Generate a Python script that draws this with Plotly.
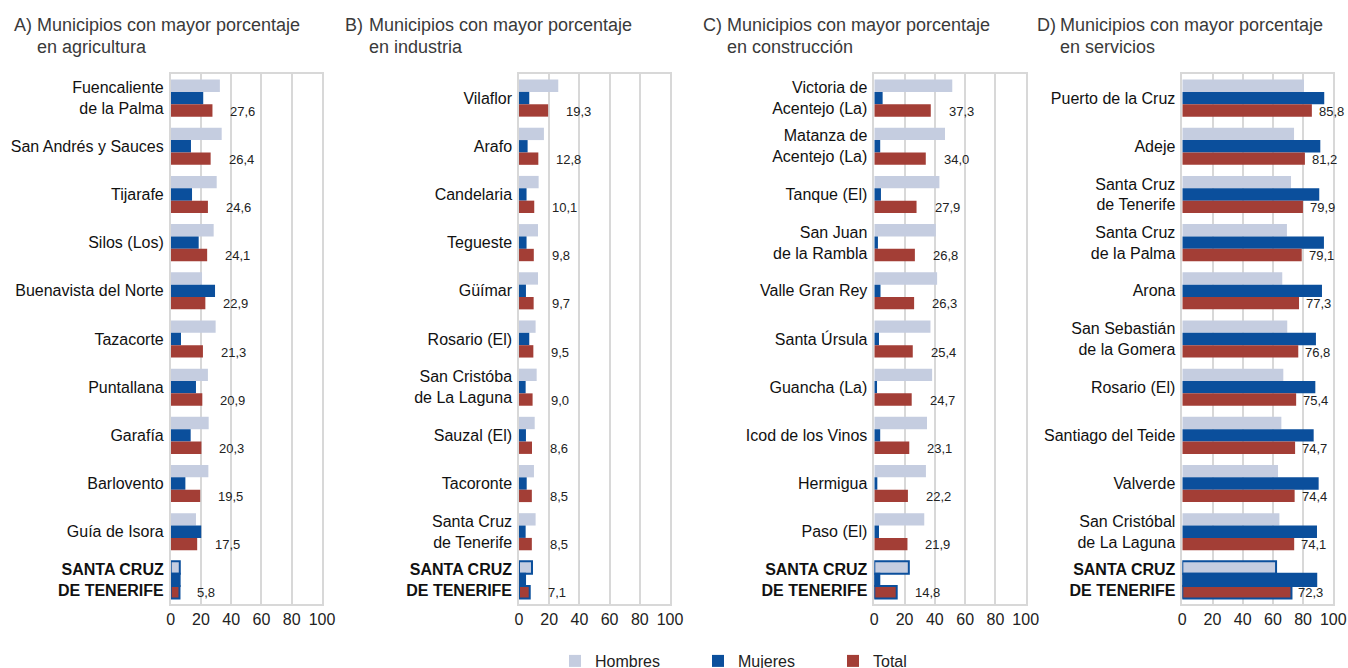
import plotly.graph_objects as go

W, H = 1348, 668

# ---------------- data ----------------
cat_a = ["Fuencaliente<br>de la Palma", "San Andrés y Sauces", "Tijarafe", "Silos (Los)",
         "Buenavista del Norte", "Tazacorte", "Puntallana", "Garafía", "Barlovento",
         "Guía de Isora", "<b>SANTA CRUZ<br>DE TENERIFE</b>"]
hom_a = [32.5, 33.7, 30.4, 28.4, 20.7, 29.7, 24.6, 25.1, 24.9, 16.7, 6.0]
muj_a = [21.5, 13.4, 14.1, 18.5, 29.3, 6.8, 16.7, 13.2, 9.7, 20.2, 5.9]
tot_a = [27.6, 26.4, 24.6, 24.1, 22.9, 21.3, 20.9, 20.3, 19.5, 17.5, 5.8]

cat_b = ["Vilaflor", "Arafo", "Candelaria", "Tegueste", "Güímar", "Rosario (El)",
         "San Cristóba<br>de La Laguna", "Sauzal (El)", "Tacoronte",
         "Santa Cruz<br>de Tenerife", "<b>SANTA CRUZ<br>DE TENERIFE</b>"]
hom_b = [26.0, 16.5, 13.0, 12.6, 12.6, 11.0, 11.7, 10.4, 9.9, 11.0, 8.6]
muj_b = [6.8, 5.7, 5.0, 5.0, 4.6, 6.8, 4.4, 4.6, 5.1, 4.4, 4.0]
tot_b = [19.3, 12.8, 10.1, 9.8, 9.7, 9.5, 9.0, 8.6, 8.5, 8.5, 7.1]

cat_c = ["Victoria de<br>Acentejo (La)", "Matanza de<br>Acentejo (La)", "Tanque (El)",
         "San Juan<br>de la Rambla", "Valle Gran Rey", "Santa Úrsula", "Guancha (La)",
         "Icod de los Vinos", "Hermigua", "Paso (El)", "<b>SANTA CRUZ<br>DE TENERIFE</b>"]
hom_c = [51.5, 46.7, 43.0, 40.6, 41.5, 37.1, 38.2, 34.8, 34.1, 33.0, 22.8]
muj_c = [5.5, 3.9, 4.4, 2.4, 4.1, 3.1, 1.8, 3.9, 2.0, 3.1, 3.3]
tot_c = [37.3, 34.0, 27.9, 26.8, 26.3, 25.4, 24.7, 23.1, 22.2, 21.9, 14.8]

cat_d = ["Puerto de la Cruz", "Adeje", "Santa Cruz<br>de Tenerife", "Santa Cruz<br>de la Palma",
         "Arona", "San Sebastián<br>de la Gomera", "Rosario (El)", "Santiago del Teide",
         "Valverde", "San Cristóbal<br>de La Laguna", "<b>SANTA CRUZ<br>DE TENERIFE</b>"]
hom_d = [80.6, 74.0, 72.0, 69.3, 66.2, 69.5, 66.9, 65.6, 63.4, 64.3, 62.1]
muj_d = [94.0, 91.4, 90.7, 93.8, 92.5, 88.5, 88.1, 87.0, 90.3, 89.2, 88.7]
tot_d = [85.8, 81.2, 79.9, 79.1, 77.3, 76.8, 75.4, 74.7, 74.4, 74.1, 72.3]

titles_letter = ["A)", "B)", "C)", "D)"]
titles_line1 = "Municipios con mayor porcentaje"
titles_line2 = ["en agricultura", "en industria", "en construcción", "en servicios"]
series_names = ["Hombres", "Mujeres", "Total"]
x_ticks = [0, 20, 40, 60, 80, 100]

# ---------------- style ----------------
COL_H = "#c5cde0"
COL_M = "#0b4f9c"
COL_T = "#a33e36"
GRID = "#d8d8d8"
FONT = "Liberation Sans"


def px(x):
    """window x pixel -> paper fraction"""
    return x / W


def py(y):
    """window y pixel (from top) -> paper fraction"""
    return (H - y) / H


panels = [
    (cat_a, hom_a, muj_a, tot_a, 170.7, 322.0, 12, 35, 16),
    (cat_b, hom_b, muj_b, tot_b, 519.0, 670.0, 343, 367, 16),
    (cat_c, hom_c, muj_c, tot_c, 874.3, 1025.7, 701, 725, 16),
    (cat_d, hom_d, muj_d, tot_d, 1182.3, 1333.3, 1035, 1058, 5),
]
PLOT_TOP, PLOT_BOT = 74, 604

fig = go.Figure()
annotations = []
layout = {}

for i, (cats, hom, muj, tot, x0, x1, tx_letter, tx_text, lab_gap) in enumerate(panels):
    n = i + 1
    xa = "x" if n == 1 else f"x{n}"
    ya = "y" if n == 1 else f"y{n}"
    last = len(cats) - 1
    for sname, vals, col in zip(series_names, [hom, muj, tot], [COL_H, COL_M, COL_T]):
        lw = [0] * last + [2]
        fig.add_trace(go.Bar(
            y=cats, x=vals, orientation="h", name=sname,
            marker=dict(color=col, line=dict(color=COL_M, width=lw)),
            xaxis=xa, yaxis=ya, showlegend=(i == 0),
            legend={"Hombres": "legend", "Mujeres": "legend2", "Total": "legend3"}[sname],
            hoverinfo="x+y",
        ))
    for c, v in zip(cats, tot):
        annotations.append(dict(
            x=v, y=c, xref=xa, yref=ya, text=f"{v:.1f}".replace(".", ","),
            showarrow=False, xanchor="left", yanchor="middle",
            xshift=lab_gap, yshift=-13,
            font=dict(family=FONT, size=13, color="#222222"),
        ))
    layout["xaxis" if n == 1 else f"xaxis{n}"] = dict(
        domain=[px(x0), px(x1)], anchor=ya, range=[0, 100],
        tickvals=x_ticks, ticktext=[str(t) for t in x_ticks],
        showgrid=True, gridcolor=GRID, gridwidth=1.5, zeroline=False,
        showline=True, mirror=True, linecolor=GRID, linewidth=1.5,
        ticks="", tickfont=dict(family=FONT, size=16, color="#222222"),
        fixedrange=True,
    )
    layout["yaxis" if n == 1 else f"yaxis{n}"] = dict(
        domain=[py(PLOT_BOT), py(PLOT_TOP)], anchor=xa,
        autorange="reversed", type="category",
        showgrid=False, zeroline=False,
        showline=True, mirror=True, linecolor=GRID, linewidth=1.5,
        ticks="", ticklabelstandoff=2,
        tickfont=dict(family=FONT, size=16, color="#111111"),
        fixedrange=True,
    )
    annotations.append(dict(
        x=px(tx_letter), y=py(25), xref="paper", yref="paper",
        text=titles_letter[i], showarrow=False, xanchor="left", yanchor="middle",
        font=dict(family=FONT, size=18, color="#3a3a3a"),
    ))
    annotations.append(dict(
        x=px(tx_text), y=py(25), xref="paper", yref="paper",
        text=titles_line1, showarrow=False, xanchor="left", yanchor="middle",
        font=dict(family=FONT, size=18, color="#3a3a3a"),
    ))
    annotations.append(dict(
        x=px(tx_text), y=py(47), xref="paper", yref="paper",
        text=titles_line2[i], showarrow=False, xanchor="left", yanchor="middle",
        font=dict(family=FONT, size=18, color="#3a3a3a"),
    ))

legend_style = dict(yanchor="middle", y=py(661), xanchor="left",
                    bgcolor="rgba(0,0,0,0)", borderwidth=0,
                    font=dict(family=FONT, size=16, color="#222222"))

fig.update_layout(
    width=W, height=H,
    margin=dict(l=0, r=0, t=0, b=0, autoexpand=False),
    paper_bgcolor="white", plot_bgcolor="white",
    barmode="group", bargap=0.23, bargroupgap=0,
    annotations=annotations,
    legend=dict(x=px(555), **legend_style),
    legend2=dict(x=px(698), **legend_style),
    legend3=dict(x=px(833), **legend_style),
    **layout,
)

# place the figure at the window's top-left corner (no default page margin / scrollbars)
fig.write_html(
    "out.html",
    config={"displayModeBar": False},
    post_script="document.body.style.margin='0';document.body.style.overflow='hidden';",
)
